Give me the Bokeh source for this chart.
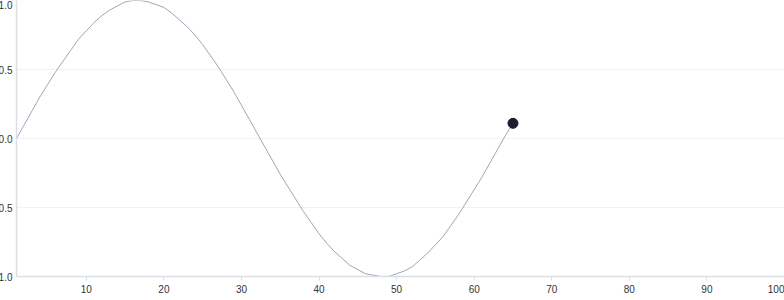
from bokeh.plotting import figure
from bokeh.models import Range1d, FixedTicker, PrintfTickFormatter
from bokeh.embed import file_html
from bokeh.resources import INLINE

# data (65 samples of a wave)
xs = [1, 2, 3, 4, 5, 6, 7, 8, 9, 10, 11, 12, 13, 14, 15, 16, 17, 18, 19, 20,
      21, 22, 23, 24, 25, 26, 27, 28, 29, 30, 31, 32, 33, 34, 35, 36, 37, 38, 39, 40,
      41, 42, 43, 44, 45, 46, 47, 48, 49, 50, 51, 52, 53, 54, 55, 56, 57, 58, 59, 60,
      61, 62, 63, 64, 65]
ys = [0.00, 0.10, 0.20, 0.30, 0.39, 0.48, 0.56, 0.64, 0.72, 0.78,
      0.84, 0.89, 0.93, 0.96, 0.99, 1.00, 1.00, 0.99, 0.97, 0.95,
      0.91, 0.86, 0.81, 0.75, 0.68, 0.60, 0.52, 0.43, 0.34, 0.24,
      0.14, 0.04, -0.06, -0.16, -0.26, -0.35, -0.44, -0.53, -0.61, -0.69,
      -0.76, -0.82, -0.87, -0.92, -0.95, -0.98, -0.99, -1.00, -1.00, -0.98,
      -0.96, -0.93, -0.88, -0.83, -0.77, -0.71, -0.63, -0.55, -0.46, -0.37,
      -0.28, -0.18, -0.08, 0.02, 0.11]
x_ticks = [10, 20, 30, 40, 50, 60, 70, 80, 90, 100]
y_ticks = [-1.0, -0.5, 0.0, 0.5, 1.0]

SHIFT = 8
p = figure(width=784 + SHIFT, height=300, output_backend="svg", toolbar_location=None,
           x_range=Range1d(1, 100), y_range=Range1d(-1, 1),
           min_border_left=0, min_border_right=0, min_border_top=0, min_border_bottom=24,
           margin=(0, 0, 0, -SHIFT))
p.outline_line_color = None
p.background_fill_color = "white"
p.border_fill_color = "white"

p.line(xs, ys, line_color="#8c8ca6", line_width=0.8)
p.scatter([xs[-1]], [ys[-1]], size=10, fill_color="#1c1c2e", line_color="#1c1c2e")

p.xgrid.visible = False
p.ygrid.grid_line_color = "#f2f2f4"
p.ygrid.ticker = FixedTicker(ticks=y_ticks)

for ax in (p.xaxis[0], p.yaxis[0]):
    ax.axis_line_color = "#dcdee6"
    ax.axis_line_width = 1.5
    ax.major_label_text_font = "Liberation Sans"
    ax.major_label_text_font_size = "10px"
    ax.major_label_text_color = "#333333"
    ax.minor_tick_line_color = None

p.xaxis.ticker = FixedTicker(ticks=x_ticks)
p.xaxis.major_tick_line_color = "#dcdee6"
p.xaxis.major_tick_out = 4
p.xaxis.major_tick_in = 0
p.xaxis.major_label_standoff = 4

p.yaxis.ticker = FixedTicker(ticks=y_ticks)
p.yaxis.formatter = PrintfTickFormatter(format="%.1f")
p.yaxis.major_tick_line_color = None
p.yaxis.major_tick_out = 0
p.yaxis.major_tick_in = 0
p.yaxis.major_label_standoff = 4

open("out.html", "w").write(file_html(p, INLINE))
